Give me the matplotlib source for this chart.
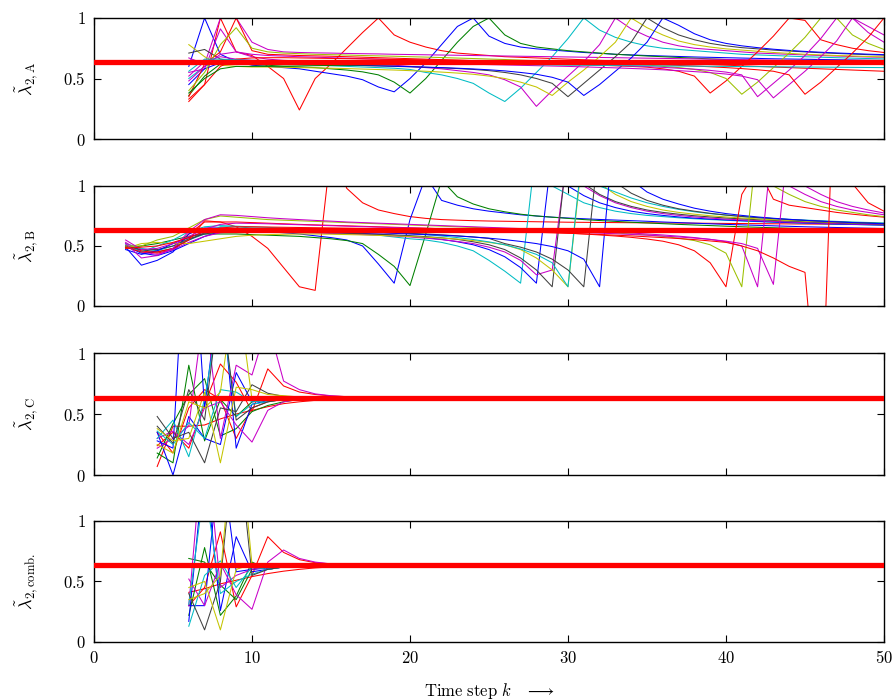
import numpy as np
import matplotlib
matplotlib.use('Agg')
import matplotlib.pyplot as plt

plt.rcParams.update({'mathtext.fontset': 'cm', 'font.family': 'serif',
                     'font.serif': ['DejaVu Serif'], 'font.size': 11})

red = '#ff0000'
green = '#008000'
blue = '#0000ff'
mag = '#c800c8'
cyan = '#00bcc4'
gray = '#404040'
yel = '#c4c400'
ygrn = '#9cc000'

lam_ref = 0.635

# ---- panel A, k = 6..50
a_start = 6
a_red1 = [0.31,0.45,1.00,0.72,0.69, 0.60,0.50,0.24,0.50,0.62, 0.75,0.88,1.00,0.86,0.80, 0.76,0.73,0.71,0.70,0.69, 0.68,0.675,0.67,0.665,0.66, 0.655,0.65,0.645,0.64,0.635, 0.63,0.625,0.62,0.615,0.61, 0.605,0.60,0.595,0.59,0.585, 0.58,0.575,0.57,0.565,0.56]
a_blue1 = [0.60,1.00,0.70,0.64,0.61, 0.60,0.59,0.58,0.56,0.54, 0.52,0.49,0.43,0.39,0.50, 0.63,0.78,0.93,1.00,0.85, 0.79,0.76,0.745,0.735,0.725, 0.715,0.708,0.70,0.695,0.69, 0.686,0.682,0.678,0.675,0.672, 0.669,0.666,0.663,0.661,0.659, 0.657,0.655,0.653,0.651,0.65]
a_green1 = [0.36,0.52,0.62,0.63,0.615, 0.61,0.60,0.595,0.59,0.58, 0.57,0.555,0.53,0.47,0.38, 0.50,0.65,0.80,0.93,1.00, 0.86,0.79,0.76,0.745,0.73, 0.72,0.71,0.70,0.693,0.686, 0.68,0.674,0.668,0.662,0.657, 0.652,0.647,0.643,0.639,0.635, 0.631,0.627,0.623,0.619,0.615]
a_cyan1 = [0.50,0.60,0.65,0.64,0.63, 0.625,0.62,0.615,0.61,0.605, 0.60,0.595,0.59,0.585,0.575, 0.55,0.53,0.50,0.46,0.38, 0.31,0.42,0.55,0.68,0.83, 1.00,0.90,0.84,0.80,0.77, 0.75,0.74,0.73,0.72,0.71, 0.70,0.695,0.69,0.685,0.68, 0.676,0.672,0.668,0.665,0.662]
a_mag1 = [0.67,0.62,1.00,1.00,0.80, 0.74,0.72,0.715,0.712,0.71, 0.707,0.705,0.703,0.70,0.698, 0.696,0.694,0.692,0.69,0.688, 0.686,0.684,0.682,0.68,0.678, 0.676,0.674,0.672,0.67,0.668, 0.666,0.664,0.662,0.66,0.658, 0.656,0.654,0.652,0.65,0.648, 0.646,0.644,0.642,0.64,0.638]
a_mag2 = [0.55,0.58,0.91,0.72,0.68, 0.66,0.65,0.645,0.64,0.635, 0.625,0.62,0.615,0.61,0.60, 0.59,0.58,0.565,0.55,0.53, 0.49,0.43,0.27,0.40,0.52, 0.64,0.78,1.00,0.91,0.85, 0.80,0.77,0.75,0.74,0.73, 0.72,0.71,0.705,0.70,0.695, 0.69,0.686,0.682,0.678,0.675]
a_yel1 = [0.78,0.68,0.61,0.60,0.595, 0.595,0.593,0.59,0.588,0.585, 0.582,0.578,0.574,0.57,0.565, 0.56,0.553,0.545,0.535,0.52, 0.50,0.47,0.43,0.36,0.47, 0.57,0.68,0.80,1.00,0.92, 0.86,0.81,0.78,0.76,0.745, 0.735,0.725,0.715,0.708,0.70, 0.695,0.69,0.686,0.682,0.678]
a_gray1 = [0.71,0.74,0.66,0.64,0.63, 0.625,0.62,0.618,0.615,0.612, 0.61,0.607,0.604,0.60,0.597, 0.593,0.588,0.582,0.575,0.565, 0.55,0.53,0.50,0.46,0.35, 0.46,0.57,0.68,0.80,1.00, 0.92,0.86,0.82,0.79,0.77, 0.755,0.745,0.735,0.727,0.72, 0.713,0.707,0.702,0.697,0.693]
a_blue2 = [0.45,0.58,0.63,0.635,0.63, 0.627,0.624,0.62,0.617,0.614, 0.611,0.608,0.605,0.602,0.598, 0.594,0.59,0.585,0.579,0.572, 0.563,0.55,0.535,0.51,0.47, 0.36,0.45,0.56,0.67,0.80, 1.00,0.94,0.87,0.82,0.79, 0.77,0.755,0.742,0.732,0.724, 0.717,0.711,0.706,0.701,0.697]
a_red2 = [0.35,0.62,0.72,1.00,0.73, 0.70,0.695,0.69,0.687,0.684, 0.68,0.676,0.672,0.668,0.664, 0.66,0.656,0.652,0.648,0.644, 0.64,0.636,0.632,0.628,0.622, 0.615,0.61,0.605,0.60,0.594, 0.58,0.56,0.52,0.38,0.48, 0.60,0.72,0.85,1.00,0.98, 0.82,0.78,0.75,0.73,0.715]
a_yel2 = [0.40,0.55,0.78,0.92,0.75, 0.72,0.71,0.705,0.70,0.697, 0.694,0.69,0.687,0.684,0.68, 0.677,0.673,0.669,0.665,0.661, 0.657,0.652,0.647,0.642,0.637, 0.632,0.627,0.622,0.617,0.612, 0.60,0.59,0.575,0.55,0.50, 0.37,0.47,0.59,0.71,0.84, 1.00,1.00,0.86,0.79,0.74]
a_mag3 = [0.48,0.60,0.70,0.72,0.70, 0.69,0.685,0.68,0.676,0.672, 0.668,0.664,0.66,0.656,0.652, 0.649,0.646,0.643,0.64,0.637, 0.634,0.631,0.628,0.625,0.621, 0.617,0.613,0.608,0.603,0.598, 0.592,0.585,0.577,0.567,0.553, 0.53,0.35,0.46,0.57,0.69, 0.83,1.00,1.00,0.88,0.80]
a_mag4 = [0.52,0.64,0.68,0.66,0.65, 0.648,0.646,0.644,0.642,0.64, 0.638,0.636,0.634,0.632,0.63, 0.627,0.624,0.621,0.618,0.615, 0.612,0.609,0.606,0.603,0.60, 0.596,0.592,0.588,0.583,0.578, 0.572,0.565,0.557,0.548,0.537, 0.52,0.49,0.34,0.45,0.56, 0.68,0.81,1.00,0.93,0.86]
a_red3 = [0.33,0.45,0.60,0.66,0.67, 0.672,0.672,0.67,0.668,0.666, 0.664,0.662,0.66,0.658,0.656, 0.654,0.652,0.65,0.648,0.646, 0.644,0.642,0.64,0.637,0.634, 0.631,0.628,0.625,0.621,0.617, 0.613,0.608,0.603,0.597,0.59, 0.582,0.572,0.56,0.53,0.37, 0.47,0.59,0.71,0.84,1.00]
a_green2 = [0.38,0.50,0.58,0.60,0.60, 0.60,0.602,0.604,0.606,0.608, 0.61,0.612,0.614,0.615,0.616, 0.617,0.618,0.619,0.62,0.621, 0.622,0.623,0.624,0.625,0.626, 0.627,0.628,0.628,0.629,0.629, 0.63,0.63,0.631,0.631,0.632, 0.632,0.632,0.633,0.633,0.633, 0.634,0.634,0.634,0.634,0.635]
a_cyan2 = [0.56,0.66,0.66,0.655,0.65, 0.648,0.646,0.644,0.642,0.64, 0.638,0.636,0.634,0.632,0.63, 0.628,0.626,0.624,0.622,0.62, 0.618,0.616,0.614,0.612,0.61, 0.609,0.608,0.607,0.606,0.605, 0.604,0.603,0.602,0.601,0.60, 0.599,0.598,0.597,0.596,0.595, 0.594,0.593,0.592,0.591,0.59]

# ---- panel B, k = 2..50
b_start = 2
b_red1 = [0.50,0.46,0.44,0.47, 0.60,0.70,0.70,0.66,0.58, 0.48,0.32,0.16,0.13,1.30, 0.98,0.86,0.80,0.77,0.745, 0.73,0.72,0.715,0.711,0.708, 0.706,0.704,0.702,0.70,0.698, 0.697,0.696,0.695,0.694,0.693, 0.692,0.691,0.69,0.689,0.688, 0.687,0.686,0.685,0.684,0.683, 0.682,0.681,0.68,0.679,0.678]
b_blue1 = [0.49,0.34,0.38,0.45, 0.60,0.65,0.65,0.64,0.63, 0.62,0.61,0.60,0.585,0.57, 0.55,0.50,0.35,0.19,0.72, 1.08,0.88,0.84,0.81,0.79, 0.775,0.76,0.75,0.74,0.733, 0.727,0.721,0.716,0.711,0.706, 0.70,0.695,0.69,0.685,0.68, 0.676,0.672,0.668,0.664,0.66, 0.657,0.654,0.651,0.648,0.645]
b_green1 = [0.48,0.50,0.52,0.55, 0.58,0.60,0.60,0.60,0.595, 0.59,0.585,0.58,0.57,0.56, 0.545,0.52,0.43,0.33,0.17, 0.60,1.05,0.91,0.85,0.81, 0.785,0.765,0.75,0.74,0.73, 0.72,0.712,0.705,0.698,0.692, 0.686,0.68,0.675,0.67,0.665, 0.66,0.656,0.652,0.648,0.645, 0.642,0.639,0.636,0.633,0.63]
b_cyan1 = [0.52,0.48,0.46,0.50, 0.55,0.60,0.66,0.66,0.65, 0.645,0.64,0.635,0.63,0.625, 0.61,0.60,0.59,0.575,0.56, 0.55,0.53,0.50,0.46,0.38, 0.29,0.19,1.35,1.00,0.93, 0.86,0.82,0.79,0.77,0.755, 0.745,0.735,0.727,0.72,0.714, 0.708,0.703,0.698,0.694,0.69, 0.686,0.682,0.679,0.676,0.673]
b_blue2 = [0.50,0.44,0.42,0.46, 0.52,0.58,0.62,0.635,0.635, 0.632,0.628,0.624,0.62,0.615, 0.61,0.605,0.598,0.59,0.58, 0.57,0.555,0.535,0.51,0.47, 0.41,0.32,0.19,1.30,1.00, 0.92,0.86,0.82,0.79,0.77, 0.755,0.742,0.732,0.724,0.717, 0.711,0.705,0.70,0.695,0.691, 0.687,0.683,0.68,0.677,0.674]
b_mag1 = [0.53,0.45,0.43,0.47, 0.53,0.58,0.61,0.62,0.62, 0.618,0.615,0.612,0.608,0.604, 0.60,0.595,0.59,0.583,0.575, 0.565,0.553,0.538,0.52,0.49, 0.45,0.38,0.26,0.30,1.30, 1.00,0.92,0.86,0.82,0.79, 0.77,0.755,0.742,0.732,0.724, 0.717,0.711,0.705,0.70,0.695, 0.691,0.687,0.683,0.68,0.677]
b_gray1 = [0.49,0.47,0.47,0.50, 0.56,0.60,0.62,0.625,0.625, 0.622,0.62,0.617,0.614,0.61, 0.606,0.602,0.597,0.592,0.586, 0.578,0.568,0.555,0.535,0.51, 0.47,0.40,0.30,0.16,1.35, 1.02,0.93,0.87,0.83,0.80, 0.78,0.765,0.752,0.742,0.733, 0.726,0.719,0.713,0.707,0.702, 0.697,0.693,0.689,0.685,0.682]
b_yel1 = [0.48,0.52,0.53,0.52, 0.52,0.54,0.56,0.58,0.59, 0.595,0.598,0.60,0.60,0.598, 0.595,0.592,0.588,0.584,0.579, 0.573,0.566,0.557,0.545,0.53, 0.51,0.47,0.40,0.30,0.16, 1.35,1.02,0.93,0.87,0.83, 0.80,0.78,0.765,0.752,0.742, 0.733,0.726,0.719,0.713,0.707, 0.702,0.697,0.693,0.689,0.685]
b_cyan2 = [0.51,0.45,0.50,0.55, 0.62,0.66,0.67,0.665,0.66, 0.655,0.65,0.645,0.64,0.635, 0.63,0.624,0.618,0.611,0.603, 0.594,0.583,0.57,0.554,0.534, 0.51,0.475,0.43,0.36,0.16, 1.40,1.00,0.95,0.90,0.86, 0.83,0.805,0.785,0.77,0.757, 0.746,0.737,0.729,0.722,0.716, 0.71,0.705,0.70,0.696,0.692]
b_gray2 = [0.50,0.47,0.45,0.48, 0.55,0.61,0.64,0.645,0.64, 0.637,0.634,0.631,0.628,0.625, 0.622,0.618,0.614,0.61,0.605, 0.60,0.593,0.585,0.575,0.563, 0.52,0.49,0.45,0.39,0.30, 0.16,1.40,1.03,0.94,0.88, 0.84,0.81,0.79,0.772,0.758, 0.746,0.736,0.728,0.72,0.713, 0.707,0.701,0.696,0.692,0.688]
b_blue3 = [0.47,0.43,0.46,0.52, 0.57,0.62,0.63,0.63,0.628, 0.626,0.624,0.622,0.62,0.618, 0.615,0.612,0.609,0.605,0.60, 0.595,0.59,0.583,0.575,0.565, 0.553,0.538,0.52,0.495,0.46, 0.39,0.16,1.60,1.05,0.95, 0.89,0.85,0.815,0.79,0.77, 0.755,0.742,0.731,0.722,0.714, 0.707,0.701,0.695,0.69,0.685]
b_red2 = [0.49,0.45,0.45,0.48, 0.55,0.71,0.70,0.70,0.695, 0.69,0.685,0.68,0.676,0.672, 0.668,0.664,0.66,0.656,0.652, 0.648,0.644,0.64,0.636,0.632, 0.628,0.623,0.618,0.613,0.607, 0.60,0.592,0.583,0.572,0.558, 0.54,0.51,0.46,0.36,0.16, 0.93,1.15,0.89,0.84,0.82, 0.80,0.78,0.765,0.752,0.74]
b_yel2 = [0.50,0.50,0.55,0.58, 0.65,0.72,0.75,0.74,0.73, 0.72,0.715,0.71,0.705,0.70, 0.695,0.69,0.685,0.68,0.675, 0.67,0.665,0.66,0.655,0.65, 0.645,0.64,0.635,0.63,0.625, 0.62,0.614,0.608,0.60,0.592, 0.58,0.565,0.545,0.51,0.44, 0.16,1.40,1.00,0.93,0.87, 0.83,0.80,0.78,0.76,0.745]
b_mag2 = [0.52,0.40,0.42,0.48, 0.62,0.72,0.76,0.755,0.745, 0.735,0.727,0.72,0.713,0.707, 0.70,0.695,0.69,0.685,0.68, 0.675,0.67,0.665,0.66,0.655, 0.65,0.645,0.64,0.635,0.63, 0.625,0.62,0.614,0.608,0.60, 0.592,0.582,0.57,0.555,0.535, 0.50,0.16,1.45,1.00,0.93, 0.87,0.83,0.80,0.78,0.76]
b_mag3 = [0.55,0.47,0.48,0.52, 0.58,0.64,0.68,0.69,0.688, 0.685,0.681,0.677,0.673,0.669, 0.665,0.661,0.657,0.653,0.65, 0.647,0.644,0.641,0.638,0.635, 0.632,0.628,0.624,0.62,0.616, 0.612,0.607,0.602,0.596,0.59, 0.583,0.575,0.566,0.555,0.54, 0.52,0.48,0.18,1.45,1.00, 0.93,0.87,0.83,0.80,0.775]
b_red3 = [0.48,0.49,0.50,0.53, 0.57,0.62,0.65,0.66,0.66, 0.658,0.656,0.654,0.652,0.65, 0.648,0.646,0.644,0.642,0.64, 0.637,0.634,0.631,0.628,0.625, 0.622,0.618,0.614,0.61,0.606, 0.601,0.596,0.59,0.584,0.577, 0.57,0.562,0.553,0.542,0.53, 0.50,0.46,0.40,0.33,0.28, -1.20,2.50,1.02,0.86,0.79]

# ---- panel C, k = 4..20
c_start = 4
c_red1 = [0.07,0.40,0.40,0.41,0.46,0.50,0.53,0.56,0.585,0.60,0.612,0.62,0.626,0.63,0.633,0.634,0.635]
c_red2 = [0.24,0.35,0.22,0.58,0.91,0.76,0.52,0.87,0.73,0.68,0.66,0.648,0.642,0.638,0.636,0.635,0.635]
c_red3 = [0.35,0.18,0.55,0.70,0.62,0.30,0.55,0.60,0.62,0.628,0.632,0.634,0.635,0.635,0.635,0.635,0.635]
c_green1 = [0.18,0.10,0.90,0.28,0.62,0.48,0.60,0.615,0.625,0.63,0.633,0.634,0.635,0.635,0.635,0.635,0.635]
c_green2 = [0.14,0.42,0.66,0.79,0.32,0.38,0.52,0.57,0.60,0.62,0.628,0.632,0.634,0.635,0.635,0.635,0.635]
c_blue1 = [0.35,0.00,0.48,0.30,0.25,0.84,0.60,0.62,0.628,0.632,0.634,0.635,0.635,0.635,0.635,0.635,0.635]
c_blue2 = [0.28,0.22,2.50,0.55,1.60,0.22,0.58,0.61,0.62,0.628,0.632,0.634,0.635,0.635,0.635,0.635,0.635]
c_mag1 = [0.22,0.30,0.40,1.40,0.30,0.90,0.82,1.25,0.77,0.70,0.665,0.65,0.642,0.638,0.636,0.635,0.635]
c_mag2 = [0.30,0.36,0.25,0.55,0.60,0.41,0.27,0.53,0.60,0.62,0.63,0.633,0.635,0.635,0.635,0.635,0.635]
c_cyan1 = [0.30,0.45,0.15,0.62,1.40,0.48,0.58,0.60,0.62,0.628,0.632,0.634,0.635,0.635,0.635,0.635,0.635]
c_cyan2 = [0.36,0.25,0.43,0.30,0.70,0.68,0.60,0.61,0.62,0.628,0.632,0.634,0.635,0.635,0.635,0.635,0.635]
c_gray1 = [0.48,0.30,0.35,0.10,0.55,0.52,0.74,0.67,0.645,0.638,0.636,0.635,0.635,0.635,0.635,0.635,0.635]
c_gray2 = [0.40,0.26,0.70,0.45,1.50,0.45,0.55,0.60,0.62,0.628,0.632,0.634,0.635,0.635,0.635,0.635,0.635]
c_yel1 = [0.38,0.28,0.30,0.68,0.10,0.72,0.70,0.66,0.65,0.64,0.637,0.635,0.635,0.635,0.635,0.635,0.635]
c_yel2 = [0.25,0.18,0.60,0.55,0.68,1.60,0.62,0.63,0.634,0.635,0.635,0.635,0.635,0.635,0.635,0.635,0.635]

# ---- panel D (combined), k = 6..20
d_start = 6
d_red1 = [0.41,0.44,0.48,0.51,0.54,0.565,0.585,0.60,0.612,0.62,0.626,0.63,0.633,0.634,0.635]
d_red2 = [0.30,0.45,0.91,0.29,0.55,0.87,0.74,0.68,0.655,0.645,0.64,0.637,0.636,0.635,0.635]
d_green1 = [0.69,0.66,0.47,0.35,0.60,0.62,0.628,0.632,0.634,0.635,0.635,0.635,0.635,0.635,0.635]
d_green2 = [0.22,0.78,0.22,0.38,0.66,0.60,0.62,0.63,0.634,0.635,0.635,0.635,0.635,0.635,0.635]
d_blue1 = [0.17,1.50,0.26,0.87,0.58,0.60,0.62,0.63,0.634,0.635,0.635,0.635,0.635,0.635,0.635]
d_blue2 = [0.30,0.30,1.60,0.58,0.60,0.61,0.62,0.63,0.634,0.635,0.635,0.635,0.635,0.635,0.635]
d_mag1 = [0.52,0.30,0.65,0.39,0.27,0.66,0.76,0.69,0.66,0.645,0.64,0.637,0.636,0.635,0.635]
d_mag2 = [0.30,1.80,0.45,0.55,0.60,0.62,0.63,0.634,0.635,0.635,0.635,0.635,0.635,0.635,0.635]
d_cyan1 = [0.13,0.55,0.67,0.45,0.62,0.60,0.62,0.63,0.634,0.635,0.635,0.635,0.635,0.635,0.635]
d_cyan2 = [0.31,1.30,0.40,0.50,0.56,0.60,0.62,0.63,0.634,0.635,0.635,0.635,0.635,0.635,0.635]
d_gray1 = [0.40,0.10,0.50,1.80,0.55,0.60,0.62,0.63,0.634,0.635,0.635,0.635,0.635,0.635,0.635]
d_yel1 = [0.45,0.50,0.10,0.60,0.64,0.62,0.628,0.632,0.634,0.635,0.635,0.635,0.635,0.635,0.635]
d_yel2 = [0.35,0.40,0.55,2.00,0.64,0.63,0.633,0.635,0.635,0.635,0.635,0.635,0.635,0.635,0.635]

panels = [
    (a_start, r'$\tilde{\lambda}_{2,\mathrm{A}}$',
     [(a_red1, red), (a_blue1, blue), (a_green1, green), (a_cyan1, cyan), (a_mag1, mag),
      (a_mag2, mag), (a_yel1, yel), (a_gray1, gray), (a_blue2, blue), (a_red2, red),
      (a_yel2, ygrn), (a_mag3, mag), (a_mag4, mag), (a_red3, red), (a_green2, green),
      (a_cyan2, cyan)]),
    (b_start, r'$\tilde{\lambda}_{2,\mathrm{B}}$',
     [(b_red1, red), (b_blue1, blue), (b_green1, green), (b_cyan1, cyan), (b_blue2, blue),
      (b_mag1, mag), (b_gray1, gray), (b_yel1, yel), (b_cyan2, cyan), (b_gray2, gray),
      (b_blue3, blue), (b_red2, red), (b_yel2, ygrn), (b_mag2, mag), (b_mag3, mag),
      (b_red3, red)]),
    (c_start, r'$\tilde{\lambda}_{2,\mathrm{C}}$',
     [(c_red1, red), (c_red2, red), (c_red3, red), (c_green1, green), (c_green2, green),
      (c_blue1, blue), (c_blue2, blue), (c_mag1, mag), (c_mag2, mag), (c_cyan1, cyan),
      (c_cyan2, cyan), (c_gray1, gray), (c_gray2, gray), (c_yel1, yel), (c_yel2, yel)]),
    (d_start, r'$\tilde{\lambda}_{2,\mathrm{comb.}}$',
     [(d_red1, red), (d_red2, red), (d_green1, green), (d_green2, green), (d_blue1, blue),
      (d_blue2, blue), (d_mag1, mag), (d_mag2, mag), (d_cyan1, cyan), (d_cyan2, cyan),
      (d_gray1, gray), (d_yel1, yel), (d_yel2, yel)]),
]

# axes boxes in figure fractions (left, bottom, width, height)
boxes = [(0.1049, 0.8014, 0.8817, 0.1729),
         (0.1049, 0.5629, 0.8817, 0.1714),
         (0.1049, 0.3214, 0.8817, 0.1743),
         (0.1049, 0.0829, 0.8817, 0.1729)]

fig = plt.figure(figsize=(8.96, 7.0), dpi=100)

for i, (start, ylab, lines) in enumerate(panels):
    ax = fig.add_axes(boxes[i])
    for vals, c in lines:
        k = np.arange(start, start + len(vals))
        ax.plot(k, vals, color=c, lw=0.75, zorder=2)
    ax.axhline(lam_ref, color=red, lw=3.8, zorder=3)
    ax.set_xlim(0, 50)
    ax.set_ylim(0, 1)
    ax.set_yticks([0, 0.5, 1], [r'$0$', r'$0.5$', r'$1$'])
    ax.set_xticks([0, 10, 20, 30, 40, 50])
    if i == 3:
        ax.set_xticklabels([r'$%d$' % t for t in [0, 10, 20, 30, 40, 50]])
        ax.set_xlabel(r'$\mathrm{Time\ step}\ k\quad\longrightarrow$', fontsize=12, labelpad=10)
    else:
        ax.set_xticklabels([])
    ax.tick_params(direction='in', top=True, right=True, length=5, width=0.8, labelsize=12, pad=6)
    for s in ax.spines.values():
        s.set_linewidth(1.0)
    ax.set_ylabel(ylab, fontsize=13)
    ax.yaxis.set_label_coords(-0.068, 0.5)

fig.savefig('out.png', dpi=100)
